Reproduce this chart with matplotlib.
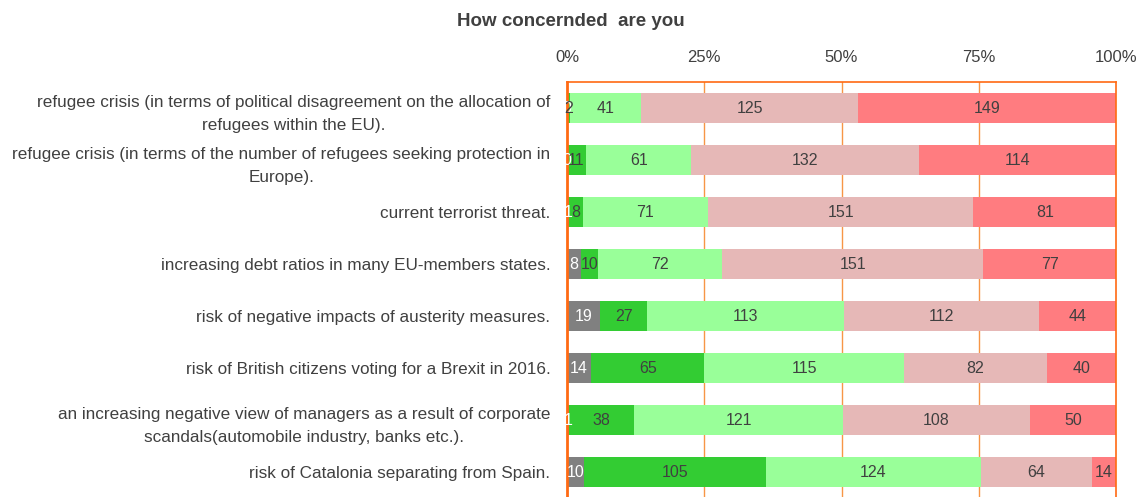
import matplotlib.pyplot as plt
import numpy as np

# survey answers per topic, from "not concerned" (grey) to "very concerned" (red)
topics = [
    "refugee crisis (in terms of political disagreement on the allocation of\nrefugees within the EU).",
    "refugee crisis (in terms of the number of refugees seeking protection in\nEurope).",
    "current terrorist threat.",
    "increasing debt ratios in many EU-members states.",
    "risk of negative impacts of austerity measures.",
    "risk of British citizens voting for a Brexit in 2016.",
    "an increasing negative view of managers as a result of corporate\nscandals(automobile industry, banks etc.).",
    "risk of Catalonia separating from Spain.",
]
not_at_all = [0, 0, 1, 8, 19, 14, 1, 10]
slightly = [2, 11, 8, 10, 27, 65, 38, 105]
somewhat = [41, 61, 71, 72, 113, 115, 121, 124]
concerned = [125, 132, 151, 151, 112, 82, 108, 64]
very = [149, 114, 81, 77, 44, 40, 50, 14]

tick_pos = [0, 25, 50, 75, 100]
tick_labels = ["0%", "25%", "50%", "75%", "100%"]

colors = ["#808080", "#33cc33", "#99ff99", "#e6b8b7", "#ff7c80"]
text_colors = ["white", "#404040", "#404040", "#404040", "#404040"]
orange = "#ff6a13"

plt.rcParams['font.family'] = ['Liberation Sans', 'DejaVu Sans']

fig = plt.figure(figsize=(11.42, 4.97), dpi=100)
ax = fig.add_axes([567 / 1142, 0, (1116 - 567) / 1142, (497 - 82) / 497])

series = [not_at_all, slightly, somewhat, concerned, very]
data = np.array(series, dtype=float)
totals = data.sum(axis=0)
y = np.arange(len(topics))
left = np.zeros(len(topics))
for vals, col, tcol in zip(data, colors, text_colors):
    pct = vals / totals * 100
    ax.barh(y, pct, left=left, height=0.58, color=col, zorder=2)
    for yi, (l, w, v) in enumerate(zip(left, pct, vals)):
        ax.text(l + w / 2, yi, f"{int(v)}", ha='center', va='center',
                fontsize=11.5, color=tcol, zorder=3)
    left += pct

ax.set_xlim(0, 100)
ax.set_ylim(7.48, -0.5)
ax.set_xticks(tick_pos)
ax.set_xticklabels(tick_labels)
ax.xaxis.tick_top()
ax.tick_params(axis='x', length=0, pad=12, labelsize=12, labelcolor='#404040')
ax.set_yticks(y)
ax.set_yticklabels(topics, multialignment='center', linespacing=1.7)
ax.tick_params(axis='y', length=0, pad=12, labelsize=12.3, labelcolor='#404040')

for xv in tick_pos[1:-1]:
    ax.axvline(xv, color='#f79646', lw=1, zorder=1)
for side in ['left', 'top', 'right']:
    ax.spines[side].set_color(orange)
ax.spines['left'].set_linewidth(2)
ax.spines['top'].set_linewidth(1.2)
ax.spines['right'].set_linewidth(1.2)
ax.spines['bottom'].set_visible(False)

fig.text(0.5, 0.957, "How concernded  are you", ha='center', va='center',
         fontsize=13.5, fontweight='bold', color='#404040')

fig.savefig("out.png", dpi=100)
